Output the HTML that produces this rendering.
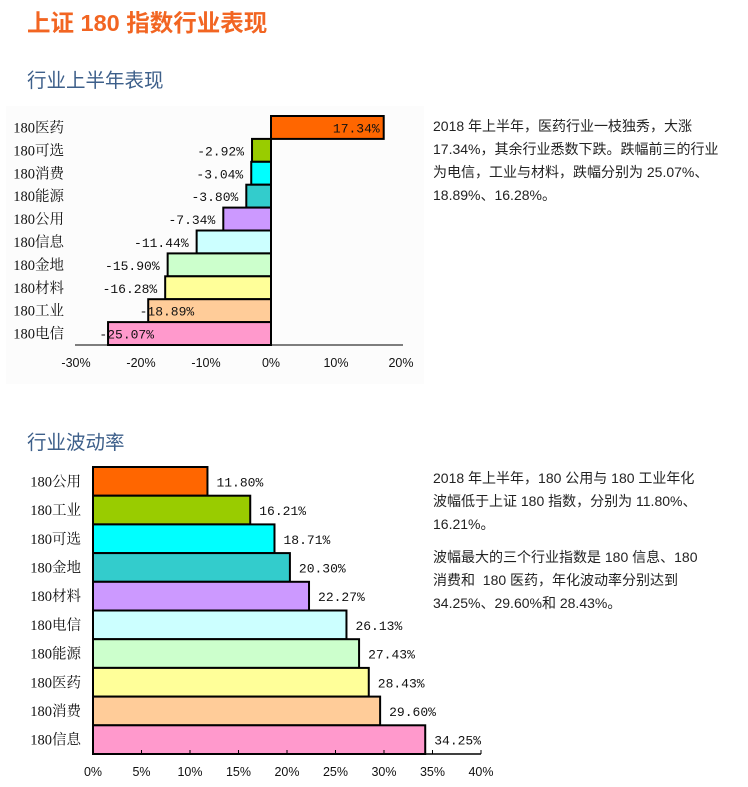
<!DOCTYPE html>
<html><head><meta charset="utf-8">
<style>
body{margin:0;background:#fff;width:748px;height:787px;overflow:hidden;position:relative;font-family:"Liberation Sans","Noto Sans CJK SC",sans-serif}
.h1{position:absolute;left:27px;top:4px;font-size:23.5px;font-weight:bold;color:#f26522;white-space:nowrap}
.h2{position:absolute;left:27px;font-size:19.5px;color:#3d5f8a;white-space:nowrap}
.txt{position:absolute;left:433px;width:315px;font-size:14px;line-height:23px;color:#222;white-space:nowrap}
.txt p{margin:0 0 10px 0}
svg{position:absolute;left:0;top:0}
</style></head><body>
<div class="h1">上证 180 指数行业表现</div>
<div class="h2" style="top:64px">行业上半年表现</div>
<div class="h2" style="top:426px">行业波动率</div>
<div class="txt" style="top:115px"><p>2018 年上半年，医药行业一枝独秀，大涨<br>17.34%，其余行业悉数下跌。跌幅前三的行业<br>为电信，工业与材料，跌幅分别为 25.07%、<br>18.89%、16.28%。</p></div>
<div class="txt" style="top:467px"><p>2018 年上半年，180 公用与 180 工业年化<br>波幅低于上证 180 指数，分别为 11.80%、<br>16.21%。</p><p>波幅最大的三个行业指数是 180 信息、180<br>消费和&nbsp; 180 医药，年化波动率分别达到<br>34.25%、29.60%和 28.43%。</p></div>
<svg id="c" width="748" height="787"></svg>
<script>
const cats1=["180医药","180可选","180消费","180能源","180公用","180信息","180金地","180材料","180工业","180电信"];
const vals1=[17.34,-2.92,-3.04,-3.80,-7.34,-11.44,-15.90,-16.28,-18.89,-25.07];
const colors1=["#ff6600","#99cc00","#00ffff","#33cccc","#cc99ff","#ccffff","#ccffcc","#ffff99","#ffcc99","#ff99cc"];
const ticks1=[-30,-20,-10,0,10,20];
const cats2=["180公用","180工业","180可选","180金地","180材料","180电信","180能源","180医药","180消费","180信息"];
const vals2=[11.80,16.21,18.71,20.30,22.27,26.13,27.43,28.43,29.60,34.25];
const colors2=["#ff6600","#99cc00","#00ffff","#33cccc","#cc99ff","#ccffff","#ccffcc","#ffff99","#ffcc99","#ff99cc"];
const ticks2=[0,5,10,15,20,25,30,35,40];
const NS="http://www.w3.org/2000/svg";
const svg=document.getElementById('c');
function mk(t,a,txt){const e=document.createElementNS(NS,t);for(const k in a)e.setAttribute(k,a[k]);if(txt!==undefined)e.textContent=txt;svg.appendChild(e);return e;}
const mono='"Liberation Mono","Noto Sans CJK SC",monospace';
const serif='"Liberation Serif","Noto Serif CJK SC",serif';
// chart 1
const bg=mk('rect',{x:6,y:106,width:418,height:278,fill:'#fcfcfc'});


const x1=v=>271+v*6.5;
const top1=116,bh1=22.9;
cats1.forEach((c,i)=>{
  const y=top1+i*bh1,v=vals1[i];
  const r=mk('rect',{x:Math.min(x1(0),x1(v)),y:y,width:Math.abs(x1(v)-x1(0)),height:bh1,fill:colors1[i],stroke:'#000','stroke-width':2});
  
  
  const l=mk('text',{x:64,y:y+bh1/2+5,'font-size':14.5,'text-anchor':'end',fill:'#111','font-family':serif},c);
  
  
  const t=mk('text',{x:v>=0?x1(v)-4:(x1(v)>150?x1(v)-8:x1(v)+46),y:y+bh1/2+5,'font-size':13,'text-anchor':'end',fill:'#111','font-family':mono},v.toFixed(2)+'%');
  
  
});
const ax1=mk('line',{x1:75,y1:345,x2:403,y2:345,stroke:'#000','stroke-width':1});


ticks1.forEach(t=>{
  const e=mk('text',{x:x1(t),y:367,'font-size':12.5,'text-anchor':'middle',fill:'#111'},t+'%');
  
  
});
// chart 2
const x2=v=>93+v*9.7;
const top2=467,bh2=28.7;
cats2.forEach((c,i)=>{
  const y=top2+i*bh2,v=vals2[i];
  const r=mk('rect',{x:x2(0),y:y,width:x2(v)-x2(0),height:bh2,fill:colors2[i],stroke:'#000','stroke-width':2});
  
  
  const l=mk('text',{x:81,y:y+bh2/2+5,'font-size':14.5,'text-anchor':'end',fill:'#111','font-family':serif},c);
  
  
  const t=mk('text',{x:x2(v)+9,y:y+bh2/2+5,'font-size':13,fill:'#111','font-family':mono},v.toFixed(2)+'%');
  
  
});
const ax2=mk('line',{x1:93,y1:754,x2:481,y2:754,stroke:'#000','stroke-width':1.5});


ticks2.forEach(t=>{
  const tk=mk('line',{x1:x2(t),y1:750,x2:x2(t),y2:754,stroke:'#000'});
  
  
  const e=mk('text',{x:x2(t),y:776,'font-size':12.5,'text-anchor':'middle',fill:'#111'},t+'%');
  
  
});
</script>
</body></html>
